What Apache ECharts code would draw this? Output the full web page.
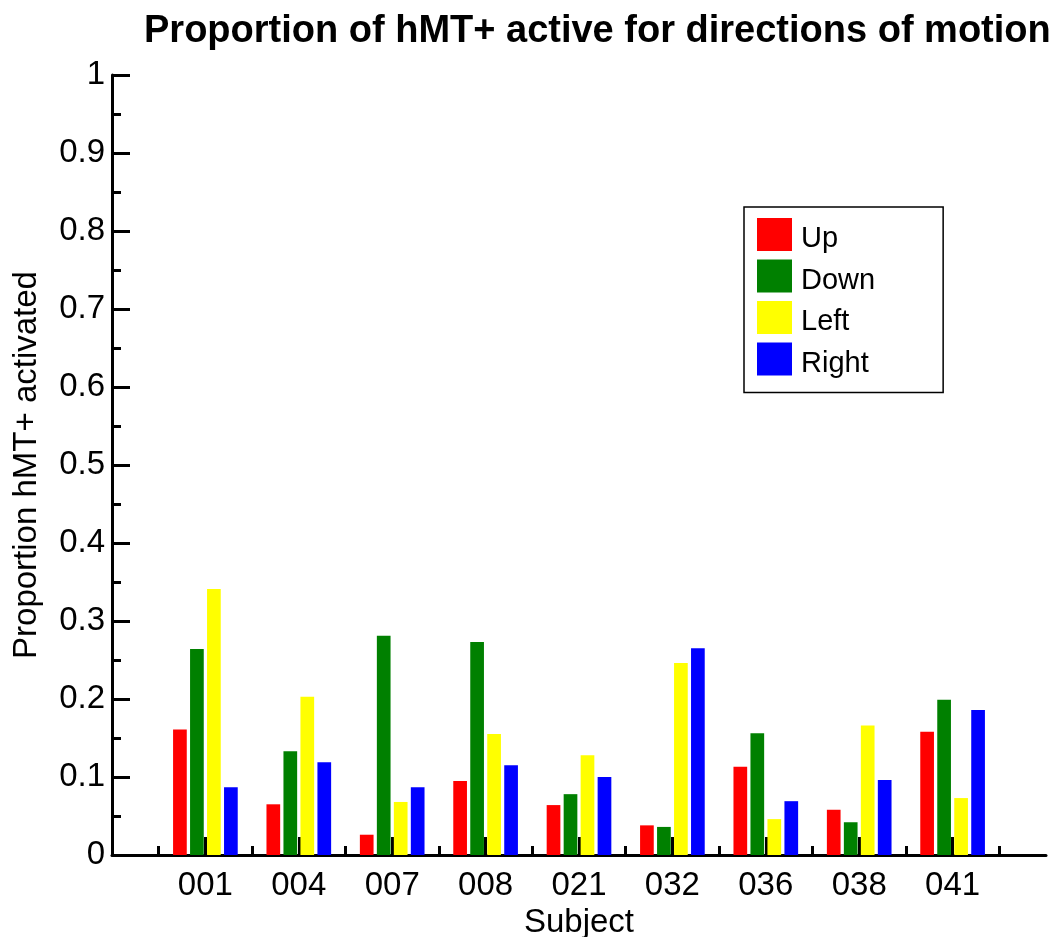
<!DOCTYPE html>
<html>
<head>
<meta charset="utf-8">
<script src="https://cdn.jsdelivr.net/npm/echarts@6/dist/echarts.min.js"></script>
<style>
html,body{margin:0;padding:0;background:#fff;}
#chart{width:1057px;height:937px;}
</style>
</head>
<body>
<div id="chart"></div>
<script>
const subjects = ['001','004','007','008','021','032','036','038','041'];
const upValues    = [0.161, 0.065, 0.026, 0.095, 0.064, 0.038, 0.113, 0.058, 0.158];
const downValues  = [0.264, 0.133, 0.281, 0.273, 0.078, 0.036, 0.156, 0.042, 0.199];
const leftValues  = [0.341, 0.203, 0.068, 0.155, 0.128, 0.246, 0.046, 0.166, 0.073];
const rightValues = [0.087, 0.119, 0.087, 0.115, 0.100, 0.265, 0.069, 0.096, 0.186];
const seriesNames = ['Up','Down','Left','Right'];
const seriesColors = ['#ff0000','#008000','#ffff00','#0000ff'];
const yTickLabels = ['0','0.1','0.2','0.3','0.4','0.5','0.6','0.7','0.8','0.9','1'];

const allValues = [upValues, downValues, leftValues, rightValues];
const FONT = 'Liberation Sans, Arial, Helvetica, sans-serif';

const chart = echarts.init(document.getElementById('chart'), null, {renderer: 'canvas'});

const series = allValues.map((vals, i) => ({
  name: seriesNames[i],
  type: 'bar',
  xAxisIndex: 0,
  yAxisIndex: 0,
  barWidth: 13.7,
  barGap: '24%',
  itemStyle: {color: seriesColors[i]},
  data: vals.map((v, k) => [k + 1, v])
}));

const axisLineStyle = {color: '#000', width: 3};

chart.setOption({
  animation: false,
  backgroundColor: '#fff',
  title: {
    text: 'Proportion of hMT+ active for directions of motion',
    left: 139,
    top: 8,
    textStyle: {fontFamily: FONT, fontWeight: 'bold', fontSize: 38, color: '#000'}
  },
  legend: {
    orient: 'vertical',
    left: 744,
    top: 207,
    icon: 'rect',
    itemWidth: 35,
    itemHeight: 33,
    itemGap: 6,
    padding: [11, 68, 14.5, 13],
    borderColor: '#000',
    borderWidth: 1.5,
    backgroundColor: '#fff',
    formatter: '{t|{name}}',
    textStyle: {
      fontFamily: FONT, fontSize: 29, color: '#000',
      rich: {t: {fontFamily: FONT, fontSize: 29, color: '#000', padding: [9, 0, 0, 4]}}
    },
    data: seriesNames
  },
  grid: {left: 112, right: 11, top: 75, bottom: 82, containLabel: false, outerBoundsMode: 'none'},
  xAxis: [{
    type: 'value',
    min: 0,
    max: 10,
    interval: 1,
    name: 'Subject',
    nameLocation: 'middle',
    nameGap: 46,
    nameTextStyle: {fontFamily: FONT, fontSize: 33, color: '#000'},
    axisLine: {show: true, lineStyle: axisLineStyle},
    axisTick: {show: true, inside: true, length: 18, lineStyle: {color: '#000', width: 3},
               customValues: [1,2,3,4,5,6,7,8,9]},
    minorTick: {show: true, splitNumber: 2, length: 9, lineStyle: {color: '#000', width: 3}},
    splitLine: {show: false},
    minorSplitLine: {show: false},
    axisLabel: {
      fontFamily: FONT, fontSize: 33, color: '#000', margin: 14,
      customValues: [1,2,3,4,5,6,7,8,9],
      formatter: function (v) { return subjects[Math.round(v) - 1] || ''; }
    }
  }],
  yAxis: [{
    type: 'value',
    min: 0,
    max: 1,
    interval: 0.1,
    name: 'Proportion hMT+ activated',
    nameLocation: 'middle',
    nameGap: 69,
    nameRotate: 90,
    nameTextStyle: {fontFamily: FONT, fontSize: 33, color: '#000'},
    axisLine: {show: true, lineStyle: axisLineStyle},
    axisTick: {show: true, inside: true, length: 18, lineStyle: {color: '#000', width: 3}},
    minorTick: {show: true, splitNumber: 2, length: 9, lineStyle: {color: '#000', width: 3}},
    splitLine: {show: false},
    axisLabel: {
      fontFamily: FONT, fontSize: 33, color: '#000', margin: 7,
      formatter: function (v) { return yTickLabels[Math.round(v * 10)]; }
    }
  }],
  series: series
});
</script>
</body>
</html>
